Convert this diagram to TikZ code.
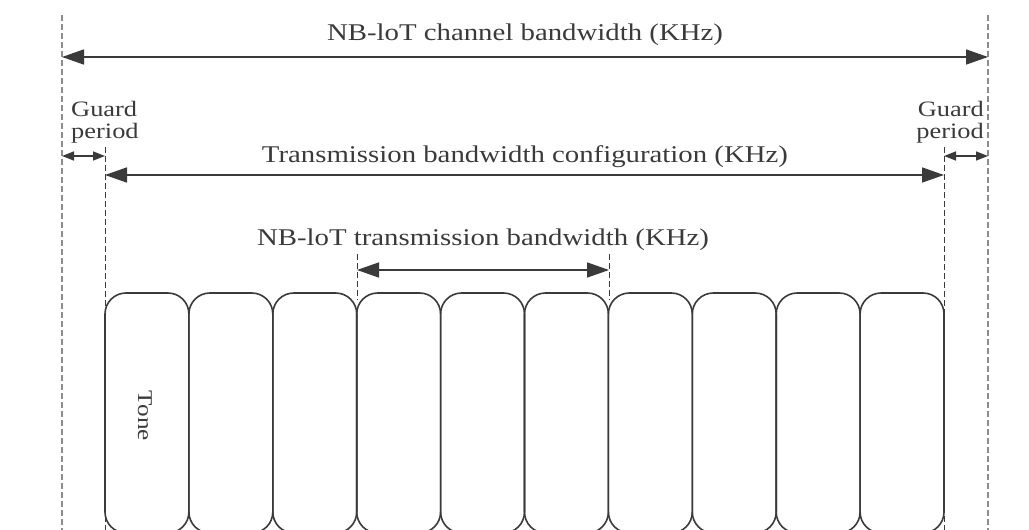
\documentclass[tikz,border=0pt]{standalone}
\usepackage{fontspec}
\setmainfont{Liberation Serif}[FakeStretch=1.2]
\usetikzlibrary{arrows.meta}
\definecolor{ink}{HTML}{3A3A3A}
\definecolor{outerdash}{HTML}{8C8C8C}
\tikzset{
  bigarrow/.style={draw=ink, line width=1.6pt, {Triangle[length=22pt,width=15pt]}-{Triangle[length=22pt,width=15pt]}},
  smallarrow/.style={draw=ink, line width=1.6pt, {Triangle[length=12pt,width=9pt]}-{Triangle[length=12pt,width=9pt]}},
  outerline/.style={draw=outerdash, line width=2.4pt, dash pattern=on 6pt off 3pt},
  innerline/.style={draw=ink, line width=1pt, dash pattern=on 6pt off 3pt},
  tonebox/.style={draw=ink, line width=1.6pt, rounded corners=21pt, minimum width=83.9pt, minimum height=240pt, inner sep=0pt, outer sep=0pt},
  lbl/.style={font=\fontsize{24}{20}\selectfont, text=ink, inner sep=0pt},
  guardlbl/.style={font=\fontsize{22}{22}\selectfont, text=ink, inner sep=0pt},
}
\begin{document}
\begin{tikzpicture}[x=1pt,y=-1pt]
\useasboundingbox (0,0) rectangle (1029,530);
\clip (0,0) rectangle (1029,530);
% tone boxes
\foreach \i in {0,...,9}{
  \node[tonebox] (t\i) at ({105+83.9*\i+41.95},413) {};
}
\node[text=ink, inner sep=0pt, font=\fontsize{21}{22}\selectfont, rotate=-90] (tonelbl) at (145,416) {Tone};
% outer dashed lines
\coordinate (oLtop) at (62,15);
\coordinate (oLbot) at (62,535);
\coordinate (oRtop) at (988,15);
\coordinate (oRbot) at (988,535);
\draw[outerline] (oLtop) -- (oLbot);
\draw[outerline] (oRtop) -- (oRbot);
% inner dashed lines
\coordinate (iLtop) at (105,147);
\coordinate (iLbot) at (105,535);
\coordinate (iRtop) at (944,147);
\coordinate (iRbot) at (944,535);
\draw[innerline] (iLtop) -- (iLbot);
\draw[innerline] (iRtop) -- (iRbot);
% NB-IoT transmission dashed
\coordinate (nLtop) at (357,254);
\coordinate (nLbot) at (357,300);
\coordinate (nRtop) at (609,254);
\coordinate (nRbot) at (609,300);
\draw[innerline] (nLtop) -- (nLbot);
\draw[innerline] (nRtop) -- (nRbot);
% arrows
\coordinate (a1) at (62,57); \coordinate (a2) at (988,57);
\draw[bigarrow] (a1) -- (a2);
\node[lbl, anchor=base] (chbw) at (525,40) {NB-loT channel bandwidth (KHz)};
\coordinate (g1) at (62,156); \coordinate (g2) at (105,156);
\draw[smallarrow] (g1) -- (g2);
\coordinate (g3) at (944,156); \coordinate (g4) at (988,156);
\draw[smallarrow] (g3) -- (g4);
\node[guardlbl, align=left, anchor=west] (gpl) at (71,122) {Guard\\period};
\node[guardlbl, align=right, anchor=east] (gpr) at (984,122) {Guard\\period};
\coordinate (b1) at (105,175); \coordinate (b2) at (944,175);
\draw[bigarrow] (b1) -- (b2);
\node[lbl, anchor=base] (tbc) at (525,162) {Transmission bandwidth configuration (KHz)};
\coordinate (n1) at (357,270); \coordinate (n2) at (609,270);
\draw[bigarrow] (n1) -- (n2);
\node[lbl, anchor=base] (ntb) at (483,245) {NB-loT transmission bandwidth (KHz)};
\end{tikzpicture}
\end{document}
